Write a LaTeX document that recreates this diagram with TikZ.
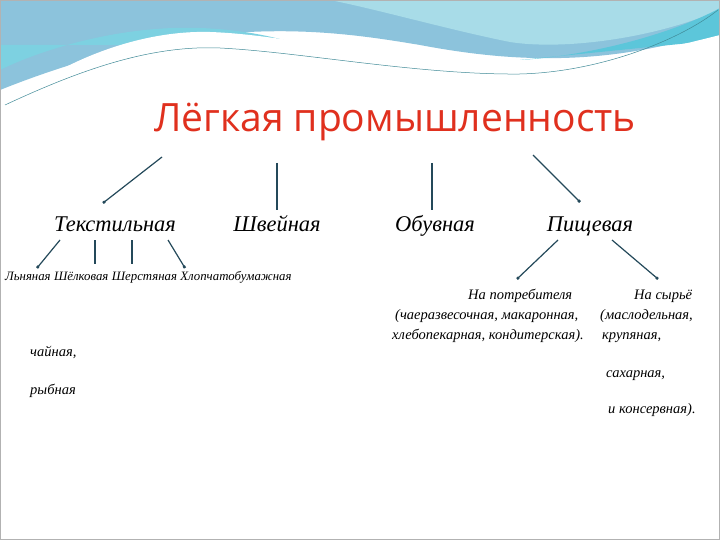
\documentclass[tikz,border=0pt]{standalone}
\usepackage{fontspec}
\setmainfont{Liberation Serif}
\newfontfamily\titlefont{Open Sans}
\usetikzlibrary{arrows.meta}
\definecolor{arr}{HTML}{24495A}
\definecolor{ttl}{HTML}{E0301E}
\definecolor{wa}{HTML}{5CC6DA}
\definecolor{wb}{HTML}{8CC3DC}
\definecolor{wc}{HTML}{A8DCE8}
\tikzset{
 con/.style={draw=arr,line width=1.2pt,-{Square[length=2.5pt,width=2.5pt]}},
 head/.style={font=\itshape\fontsize{22.5}{23}\selectfont,anchor=base},
 small/.style={font=\itshape\fontsize{12.8}{13}\selectfont,inner sep=0pt,anchor=base west},
 mid/.style={font=\itshape\fontsize{14.5}{15}\selectfont,inner sep=0pt,anchor=base west}
}
\begin{document}
\begin{tikzpicture}[x=1pt,y=-1pt]
\useasboundingbox (0,0) rectangle (720,540);
\fill[white] (0,0) rectangle (720,540);
% background wave
\fill[wb] (0,0) -- (720,0) -- (720,30) .. controls (600,70) and (500,60) .. (420,45) .. controls (330,30) and (200,10) .. (0,90) -- cycle;
\fill[wa!80] (0,70) .. controls (40,50) and (120,25) .. (200,28) .. controls (260,30) and (300,45) .. (300,45) -- (0,45) -- cycle;
\fill[wc] (330,0) -- (720,0) -- (720,10) .. controls (650,40) and (560,50) .. (510,42) .. controls (450,30) and (380,10) .. (330,0) -- cycle;
\fill[wa] (720,8) .. controls (680,30) and (600,55) .. (520,60) -- (720,40) -- cycle;
\fill[white] (0,110) .. controls (60,60) and (140,30) .. (210,32) .. controls (300,35) and (420,70) .. (520,68) .. controls (600,66) and (680,45) .. (720,35) -- (720,540) -- (0,540) -- cycle;
\draw[wa!70!black,line width=0.5pt] (5,105) .. controls (80,70) and (150,45) .. (220,48) .. controls (300,52) and (420,75) .. (520,74) .. controls (600,72) and (680,40) .. (718,10);
\draw[gray!60,line width=0.8pt] (0.4,0.4) rectangle (719.6,539.6);
% title
\node[text=ttl,font=\titlefont\fontsize{39}{39}\selectfont] (title) at (395,122) {Лёгкая промышленность};
% heads
\node[head] (tex) at (115,232) {Текстильная};
\node[head] (shv) at (277,232) {Швейная};
\node[head] (obu) at (435,232) {Обувная};
\node[head] (pis) at (590,232) {Пищевая};
\coordinate (t1) at (162,157); \coordinate (t2) at (277,163);
\coordinate (t3) at (432,163); \coordinate (t4) at (533,155);
\draw[con] (t1) -- (103,203);
\draw[con] (t2) -- (277,210);
\draw[con] (t3) -- (432,210);
\draw[con] (t4) -- (580,202);
% textile subtypes
\node[small] (lny) at (5,280) {Льняная};
\node[small] (shl) at ([xshift=3pt]lny.base east) {Шёлковая};
\node[small] (she) at ([xshift=3pt]shl.base east) {Шерстяная};
\node[small] (hlo) at ([xshift=3pt]she.base east) {Хлопчатобумажная};
\coordinate (a1) at (60,240); \coordinate (a2) at (95,240);
\coordinate (a3) at (132,240); \coordinate (a4) at (168,240);
\draw[con] (a1) -- (37,268);
\draw[con] (a2) -- (95,264);
\draw[con] (a3) -- (132,264);
\draw[con] (a4) -- (185,268);
\node[mid] (chai) at (30,356) {чайная,};
\node[mid] (ryb) at (30,394) {рыбная};
% food
\coordinate (p1) at (558,240); \coordinate (p2) at (612,240);
\draw[con] (p1) -- (517,279);
\draw[con] (p2) -- (658,279);
\node[mid] (np) at (468,299) {На потребителя};
\node[mid] (np1) at (395,319) {(чаеразвесочная, макаронная,};
\node[mid] (np2) at (392,339) {хлебопекарная, кондитерская).};
\node[mid] (ns) at (634,299) {На сырьё};
\node[mid] (ns1) at (600,319) {(маслодельная,};
\node[mid] (ns2) at (602,339) {крупяная,};
\node[mid] (ns3) at (606,377) {сахарная,};
\node[mid] (ns4) at (608,413) {и консервная).};
\end{tikzpicture}
\end{document}
